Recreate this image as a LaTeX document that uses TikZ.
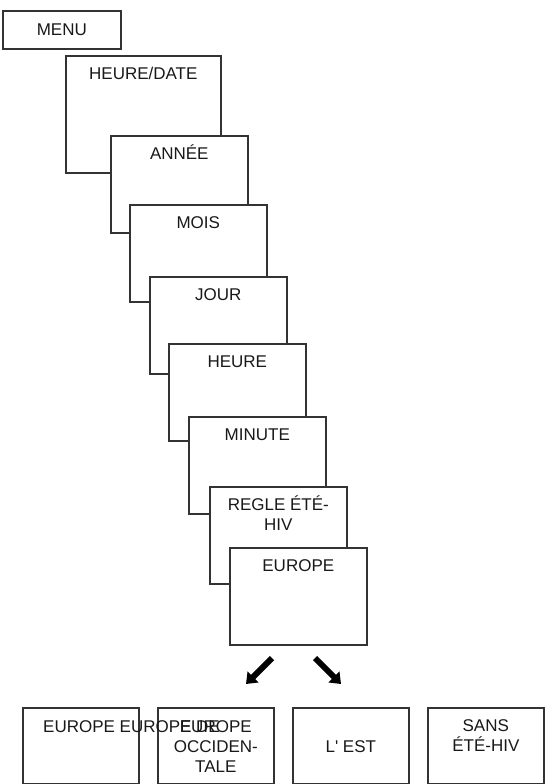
\documentclass[tikz,border=0pt]{standalone}
\usepackage{fontspec}
\setmainfont{Liberation Sans}
\usepackage{tikz}
\usetikzlibrary{arrows.meta}

\begin{document}
\begin{tikzpicture}[
        x=1pt, y=-1pt,
        box/.style={
            draw=black!80,
            line width=1.6pt,
            fill=white,
            rectangle,
            anchor=north west,
            inner sep=0pt
        },
        card/.style={box, minimum width=137pt, minimum height=97pt},
        cell/.style={box, minimum width=116pt, minimum height=76pt},
        lbl/.style={
            font=\fontsize{17}{20}\selectfont,
            text=black!90,
            inner sep=0pt,
            align=center
        },
        arrow/.style={-{Triangle[width=15pt,length=10pt]}, line width=6pt}
    ]

        \useasboundingbox (0,0) rectangle (545,784);

        \node[box, minimum width=118pt, minimum height=38pt, lbl] (menu) at (2,10) {MENU};

        \node[box, minimum width=155pt, minimum height=117pt] (date) at (65,55) {};
        \node[lbl, anchor=base] (date-t) at ([yshift=-24pt]date.north) {HEURE/DATE};

        \node[card] (annee) at (110,135) {};
        \node[lbl, anchor=base] (annee-t) at ([yshift=-24pt]annee.north) {ANNÉE};

        \node[card] (mois) at (129,204) {};
        \node[lbl, anchor=base] (mois-t) at ([yshift=-24pt]mois.north) {MOIS};

        \node[card] (jour) at (149,276) {};
        \node[lbl, anchor=base] (jour-t) at ([yshift=-24pt]jour.north) {JOUR};

        \node[card] (heure) at (168,343) {};
        \node[lbl, anchor=base] (heure-t) at ([yshift=-24pt]heure.north) {HEURE};

        \node[card] (minute) at (188,416) {};
        \node[lbl, anchor=base] (minute-t) at ([yshift=-24pt]minute.north) {MINUTE};

        \node[card] (regle) at (209,486) {};
        \node[lbl, anchor=base] (regle-t) at ([yshift=-44pt]regle.north) {REGLE ÉTÉ-\\HIV};

        \node[card] (europe) at (229,547) {};
        \node[lbl, anchor=base] (europe-t) at ([yshift=-24pt]europe.north) {EUROPE};

        \coordinate (la) at (272,658);
        \coordinate (lb) at (246,684);
        \coordinate (ra) at (315,658);
        \coordinate (rb) at (341,684);
        \draw[arrow] (la) -- (lb);
        \draw[arrow] (ra) -- (rb);

        \node[cell] (c1) at (22,707) {};
        \node[cell] (c2) at (157,707) {};
        \node[cell] (c3) at (292,707) {};
        \node[cell] (c4) at (427,707) {};

        \node[lbl, anchor=base west] (c1-t) at ([xshift=21pt, yshift=-25pt]c1.north west) {EUROPE EUROPE DE};
        \node[lbl, anchor=base] (c2-t) at ([yshift=-65pt]c2.north) {EUROPE\\OCCIDEN-\\TALE};
        \node[lbl, anchor=base] (c3-t) at ([yshift=-45pt]c3.north) {L\textquotesingle\ EST};
        \node[lbl, anchor=base] (c4-t) at ([yshift=-44pt]c4.north) {SANS\\ÉTÉ-HIV};

    \end{tikzpicture}
\end{document}
